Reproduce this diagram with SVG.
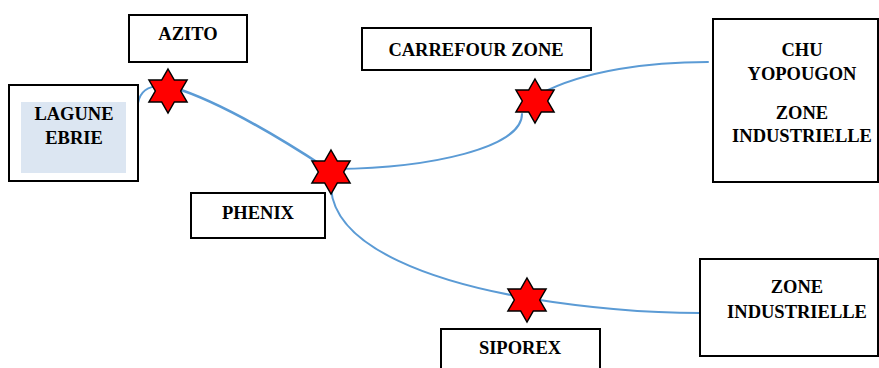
<svg xmlns="http://www.w3.org/2000/svg" xmlns:xlink="http://www.w3.org/1999/xlink" width="879" height="368" viewBox="0 0 879 368">
  <style>
    .box { fill: #ffffff; stroke: #000000; stroke-width: 2; }
    .lbl { font-family: "Liberation Serif", "Times New Roman", serif; font-weight: bold; font-size: 18.5px; fill: #000000; text-anchor: middle; }
    .link { fill: none; stroke: #5b9bd5; stroke-width: 2; stroke-linecap: round; }
    .star { fill: #ff0000; stroke: #000000; stroke-width: 1.5; stroke-linejoin: miter; }
  </style>
  <defs>
    <!-- six-pointed station marker -->
    <path id="hexstar" class="star" d="M0,-22 L6.35,-11 L19.05,-11 L12.7,0 L19.05,11 L6.35,11 L0,22 L-6.35,11 L-19.05,11 L-12.7,0 L-19.05,-11 L-6.35,-11 Z"/>
  </defs>
  <rect width="879" height="368" fill="#ffffff"/>

  <!-- connectors -->
  <g id="connectors">
    <path class="link" d="M138,103 C140,92 148,86 160,86"/>
    <path class="link" style="stroke-width:2.6" d="M172,87 C215,100 268,130 326,168"/>
    <path class="link" d="M336,169 C430,168 522,148 522,114"/>
    <path class="link" d="M540,94 C585,70 650,62 708,62"/>
    <path class="link" d="M331,188 C335,250 440,283 527,298 C600,310 650,313 700,313"/>
  </g>

  <g id="node-lagune">
    <rect class="box" x="9" y="85" width="129" height="96"/>
    <rect x="21" y="102" width="105" height="71" fill="#dce6f2"/>
    <text class="lbl" x="74" y="120">LAGUNE</text>
    <text class="lbl" x="74" y="144">EBRIE</text>
  </g>

  <g id="node-azito">
    <rect class="box" x="129" y="15" width="118" height="47"/>
    <text class="lbl" x="188" y="40">AZITO</text>
  </g>

  <g id="node-phenix">
    <rect class="box" x="191" y="193" width="134" height="45"/>
    <text class="lbl" x="258" y="219">PHENIX</text>
  </g>

  <g id="node-carrefour">
    <rect class="box" x="362" y="28" width="229" height="42"/>
    <text class="lbl" x="476" y="56">CARREFOUR ZONE</text>
  </g>

  <g id="node-chu">
    <rect class="box" x="713" y="19" width="165" height="163"/>
    <text class="lbl" x="802" y="56">CHU</text>
    <text class="lbl" x="802" y="80">YOPOUGON</text>
    <text class="lbl" x="802" y="119">ZONE</text>
    <text class="lbl" x="802" y="142">INDUSTRIELLE</text>
  </g>

  <g id="node-zone-industrielle">
    <rect class="box" x="700" y="259" width="178" height="97"/>
    <text class="lbl" x="797" y="293">ZONE</text>
    <text class="lbl" x="797" y="318">INDUSTRIELLE</text>
  </g>

  <g id="node-siporex">
    <rect class="box" x="441" y="329" width="159" height="45"/>
    <text class="lbl" x="520" y="354">SIPOREX</text>
  </g>

  <!-- station markers -->
  <g id="markers">
    <use xlink:href="#hexstar" x="168" y="91"/>
    <use xlink:href="#hexstar" x="331" y="172"/>
    <use xlink:href="#hexstar" x="535" y="101"/>
    <use xlink:href="#hexstar" x="527" y="300"/>
  </g>
</svg>
